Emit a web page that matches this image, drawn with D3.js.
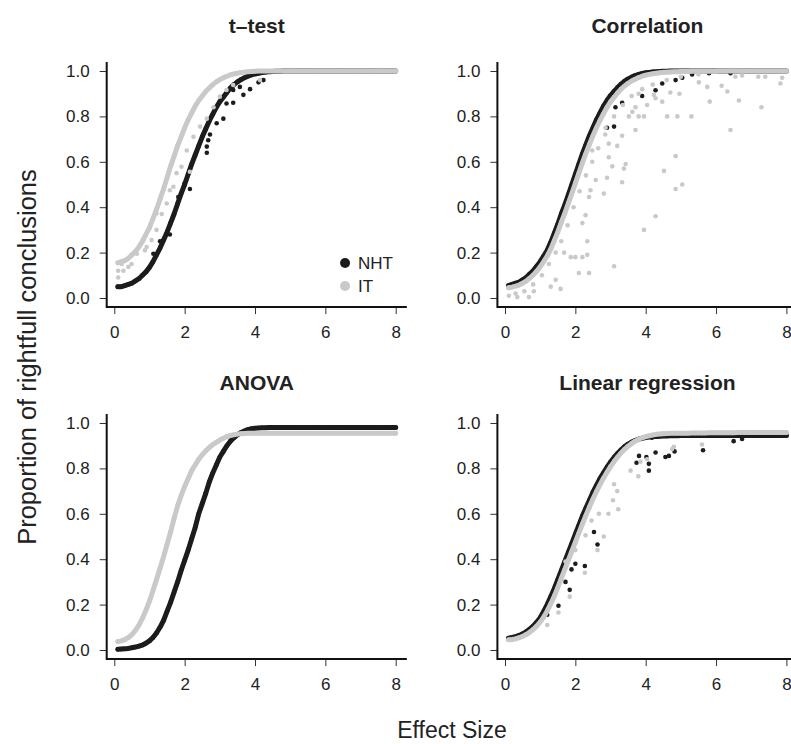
<!DOCTYPE html>
<html>
<head>
<meta charset="utf-8">
<script src="https://cdn.jsdelivr.net/npm/d3@7"></script>
<style>
	body { margin: 0; background: #fff; }
	svg { display: block; font-family: "Liberation Sans", Arial, sans-serif; }
</style>
</head>
<body>
<div id="chart"></div>
<script>
'use strict';

// effect sizes the simulations were run at
const effectSize = [
	0.1, 0.2, 0.3, 0.4, 0.5, 0.6, 0.7, 0.8, 0.9, 1.0,
	1.1, 1.2, 1.3, 1.4, 1.5, 1.6, 1.7, 1.8, 1.9, 2.0,
	2.1, 2.2, 2.3, 2.4, 2.5, 2.6, 2.7, 2.8, 2.9, 3.0,
	3.1, 3.2, 3.3, 3.4, 3.5, 3.6, 3.7, 3.8, 3.9, 4.0,
	4.1, 4.2, 4.3, 4.4, 4.5, 4.6, 4.7, 4.8, 4.9, 5.0,
	5.1, 5.2, 5.3, 5.4, 5.5, 5.6, 5.7, 5.8, 5.9, 6.0,
	6.1, 6.2, 6.3, 6.4, 6.5, 6.6, 6.7, 6.8, 6.9, 7.0,
	7.1, 7.2, 7.3, 7.4, 7.5, 7.6, 7.7, 7.8, 7.9, 8.0 ];

const xTicks = [0, 2, 4, 6, 8];
const yTicks = [0, 0.2, 0.4, 0.6, 0.8, 1.0];
const seriesNames = ["NHT", "IT"];
const panelTitles = ["t\u2013test", "Correlation", "ANOVA", "Linear regression"];

// t-test
const tTestNHT = [
	.050, .050, .055, .060, .065, .075, .085, .100, .115, .135,
	.160, .190, .220, .255, .290, .330, .370, .415, .460, .500,
	.545, .590, .630, .670, .710, .745, .780, .810, .840, .865,
	.885, .905, .925, .940, .952, .962, .970, .977, .983, .987,
	.990, .993, .995, .997, .998, .999, .999, 1, 1, 1,
	1, 1, 1, 1, 1, 1, 1, 1, 1, 1,
	1, 1, 1, 1, 1, 1, 1, 1, 1, 1,
	1, 1, 1, 1, 1, 1, 1, 1, 1, 1 ];
const tTestIT = [
	.155, .160, .165, .175, .190, .205, .225, .250, .280, .310,
	.350, .390, .435, .480, .530, .580, .625, .670, .710, .750,
	.785, .815, .845, .870, .890, .910, .925, .940, .952, .962,
	.970, .977, .983, .987, .990, .993, .995, .997, .998, .999,
	1, 1, 1, 1, 1, 1, 1, 1, 1, 1,
	1, 1, 1, 1, 1, 1, 1, 1, 1, 1,
	1, 1, 1, 1, 1, 1, 1, 1, 1, 1,
	1, 1, 1, 1, 1, 1, 1, 1, 1, 1 ];
const tTestNHTExtra = [
	[2.15, .48], [2.63, .64], [2.63, .667], [2.67, .695], [2.72, .72], [1.58, .28],
	[1.30, .25], [1.11, .195], [3.38, .86], [3.67, .895], [3.86, .92], [4.10, .95],
	[4.24, .96], [3.57, .93], [3.10, .79], [2.91, .77], [3.19, .857], [2.00, .505],
	[1.82, .445], [3.38, .916] ];
const tTestITExtra = [
	[.11, .09], [.26, .12], [.40, .137], [.64, .195], [.87, .21], [1.06, .255],
	[1.20, .30], [1.35, .37], [1.49, .416], [1.68, .49], [1.77, .55], [1.91, .578],
	[2.06, .65], [2.25, .71], [2.44, .755], [2.63, .79], [2.82, .84], [3.00, .887],
	[3.19, .916], [3.38, .938], [4.14, .96], [.21, .15], [.49, .15], [.82, .255],
	[.92, .225], [1.20, .372], [1.58, .475], [2.15, .556], [.11, .12] ];

// correlation
const corNHT = [
	.055, .060, .065, .070, .080, .090, .105, .120, .140, .160,
	.185, .210, .245, .285, .325, .370, .410, .455, .500, .545,
	.590, .635, .675, .715, .750, .785, .815, .845, .870, .892,
	.910, .927, .942, .955, .965, .973, .980, .985, .989, .992,
	.994, .996, .997, .998, .999, .999, 1, 1, 1, 1,
	1, 1, 1, 1, 1, 1, 1, 1, 1, 1,
	1, 1, 1, 1, 1, 1, 1, 1, 1, 1,
	1, 1, 1, 1, 1, 1, 1, 1, 1, 1 ];
const corIT = [
	.045, .048, .052, .057, .065, .074, .087, .101, .118, .137,
	.160, .185, .215, .252, .290, .333, .373, .417, .460, .505,
	.550, .595, .637, .677, .715, .750, .782, .812, .840, .864,
	.884, .903, .920, .934, .946, .956, .964, .971, .977, .982,
	.985, .988, .990, .992, .994, .995, .996, .997, .997, .998,
	.998, .998, .999, .999, .999, .999, .999, .999, .999, .999,
	1, 1, 1, 1, 1, 1, 1, 1, 1, 1,
	1, 1, 1, 1, 1, 1, 1, 1, 1, 1 ];
const corNHTExtra = [
	[3.90, .89], [4.28, .915], [4.47, .945], [4.85, .96], [5.04, .97], [5.32, .985],
	[5.80, .99], [6.41, .99], [3.33, .86], [3.10, .755], [2.90, .75], [3.14, .84] ];
const corITExtra = [
	[.11, .01], [.35, .004], [.68, .004], [.82, .03], [1.30, .05], [1.58, .04],
	[1.44, .08], [1.68, .20], [1.87, .18], [2.00, .18], [2.20, .18], [2.34, .19],
	[2.34, .25], [2.10, .11], [2.39, .11], [3.10, .14], [2.29, .365], [2.20, .33],
	[2.81, .46], [2.90, .53], [3.33, .51], [3.38, .57], [3.05, .58], [2.95, .62],
	[3.19, .67], [3.33, .715], [3.71, .74], [3.52, .80], [3.80, .80], [3.95, .80],
	[3.95, .30], [4.28, .36], [4.52, .56], [4.85, .625], [4.85, .48], [5.04, .50],
	[4.61, .80], [4.90, .80], [5.30, .80], [5.82, .865], [6.41, .74], [6.65, .87],
	[7.29, .84], [6.16, .935], [6.32, .91], [5.51, .95], [5.75, .93], [4.28, .88],
	[4.47, .865], [4.23, .895], [4.04, .85], [3.80, .90], [3.71, .84], [4.70, .905],
	[4.96, .90], [7.20, .975], [7.40, .975], [7.83, .945], [7.88, .97], [6.55, .975],
	[6.74, .98], [3.43, .59], [2.95, .68], [2.58, .52], [2.43, .475], [2.39, .445],
	[2.48, .65], [2.86, .75], [3.62, .82],
	// lower edge of the dense band
	[.30, .02], [.55, .03], [.80, .06], [1.05, .10], [1.25, .15], [1.44, .20],
	[1.60, .25], [1.78, .32], [1.95, .40], [2.12, .47], [2.30, .54], [2.48, .60],
	[2.65, .66], [2.85, .72], [3.10, .80], [3.35, .85], [3.60, .89], [3.90, .92],
	[4.20, .94], [4.60, .96], [5.00, .975], [5.50, .985] ];

// ANOVA
const anovaNHT = [
	.003, .004, .005, .007, .010, .013, .017, .022, .030, .040,
	.055, .075, .100, .130, .170, .210, .255, .300, .350, .395,
	.440, .490, .540, .600, .645, .690, .740, .780, .815, .850,
	.875, .900, .920, .935, .948, .958, .965, .971, .975, .977,
	.978, .979, .979, .980, .980, .980, .980, .980, .980, .980,
	.980, .980, .980, .980, .980, .980, .980, .980, .980, .980,
	.980, .980, .980, .980, .980, .980, .980, .980, .980, .980,
	.980, .980, .980, .980, .980, .980, .980, .980, .980, .980 ];
const anovaIT = [
	.037, .040, .046, .055, .068, .086, .110, .140, .175, .215,
	.262, .310, .360, .410, .465, .520, .580, .635, .680, .720,
	.755, .790, .815, .840, .860, .877, .892, .905, .915, .925,
	.933, .940, .945, .948, .951, .953, .954, .955, .955, .955,
	.955, .955, .955, .955, .955, .955, .955, .955, .955, .955,
	.955, .955, .955, .955, .955, .955, .955, .955, .955, .955,
	.955, .955, .955, .955, .955, .955, .955, .955, .955, .955,
	.955, .955, .955, .955, .955, .955, .955, .955, .955, .955 ];

// linear regression
const lrNHT = [
	.052, .055, .059, .064, .071, .080, .092, .105, .122, .142,
	.170, .200, .235, .270, .310, .350, .390, .430, .470, .510,
	.550, .590, .625, .660, .695, .725, .755, .780, .805, .828,
	.848, .866, .882, .896, .907, .916, .923, .929, .933, .936,
	.938, .940, .941, .942, .943, .943, .944, .944, .944, .945,
	.945, .945, .945, .945, .945, .945, .945, .945, .945, .945,
	.945, .945, .945, .945, .945, .945, .945, .945, .945, .945,
	.945, .945, .945, .945, .945, .945, .945, .945, .945, .945 ];
const lrIT = [
	.045, .046, .049, .054, .060, .068, .078, .090, .105, .123,
	.145, .172, .203, .237, .275, .315, .355, .395, .435, .475,
	.515, .555, .593, .630, .665, .698, .728, .757, .783, .808,
	.830, .850, .868, .884, .898, .910, .920, .928, .935, .940,
	.944, .947, .950, .952, .953, .954, .955, .955, .955, .955,
	.955, .955, .956, .956, .956, .956, .956, .957, .957, .957,
	.957, .957, .957, .957, .957, .958, .958, .958, .958, .958,
	.958, .958, .958, .958, .958, .958, .958, .958, .958, .958 ];
const lrNHTExtra = [
	[1.20, .155], [1.52, .195], [1.84, .265], [2.27, .37], [2.53, .52], [2.63, .465],
	[3.74, .825], [3.81, .855], [4.02, .85], [4.09, .82], [4.09, .79], [4.28, .87],
	[4.56, .85], [4.66, .855], [4.82, .875], [5.63, .88], [6.50, .92], [6.74, .93],
	[4.18, .935], [2.00, .38], [1.89, .355], [1.72, .30] ];
const lrITExtra = [
	[1.20, .11], [1.52, .165], [1.84, .235], [2.27, .34], [2.63, .44], [2.81, .50],
	[2.94, .60], [3.22, .62], [3.07, .66], [3.19, .70], [3.10, .73], [3.79, .765],
	[3.57, .79], [3.85, .83], [4.04, .84], [4.75, .885], [4.80, .895], [5.60, .905],
	[2.29, .505], [2.00, .44], [1.72, .39], [2.46, .57], [2.67, .60] ];

const W = 791, H = 744;
const colours = { NHT: "#1c1c1c", IT: "#c9c9c9" };

// pixel frames of the four panels (where x=0..8 and y=0..1 land)
const cols = [[114.3, 395.7], [505, 786.4]];
const rows = [[298, 71], [650, 423]];

const panels = [
	{ title: panelTitles[0], col: 0, row: 0, nht: tTestNHT, it: tTestIT, nhtExtra: tTestNHTExtra, itExtra: tTestITExtra, legend: true },
	{ title: panelTitles[1], col: 1, row: 0, nht: corNHT, it: corIT, nhtExtra: corNHTExtra, itExtra: corITExtra },
	{ title: panelTitles[2], col: 0, row: 1, nht: anovaNHT, it: anovaIT, nhtExtra: [], itExtra: [] },
	{ title: panelTitles[3], col: 1, row: 1, nht: lrNHT, it: lrIT, nhtExtra: lrNHTExtra, itExtra: lrITExtra }
];

const svg = d3.select("#chart")
	.append("svg")
		.attr("width", W)
		.attr("height", H);

panels.forEach(p => {
	const x = d3.scaleLinear().domain([0, 8]).range(cols[p.col]);
	const y = d3.scaleLinear().domain([0, 1]).range(rows[p.row]);
	const x0 = x(-0.216), x1 = Math.min(x(8.316), W);
	const y0 = y(-0.04), y1 = y(1.04);

	const g = svg.append("g");

	const pts = (vals) => vals.map((v, i) => [effectSize[i], v]);

	// the simulation runs are so dense they read as a band: stroke the run
	// with the dot width, then put the dots on top
	const band = d3.line()
		.x(d => x(d[0]))
		.y(d => y(d[1]));
	const drawBand = (data, stroke) => g.append("path")
		.datum(data)
		.attr("d", band)
		.attr("fill", "none")
		.attr("stroke", stroke)
		.attr("stroke-width", 5)
		.attr("stroke-linejoin", "round")
		.attr("stroke-linecap", "round");
	const drawDots = (data, fill) => g.append("g")
		.selectAll("circle")
		.data(data)
		.join("circle")
			.attr("cx", d => x(d[0]))
			.attr("cy", d => y(d[1]))
			.attr("r", 2.3)
			.attr("fill", fill);

	drawBand(pts(p.nht), colours.NHT);
	drawDots(pts(p.nht), colours.NHT);
	drawDots(p.nhtExtra, colours.NHT);
	drawBand(pts(p.it), colours.IT);
	drawDots(pts(p.it), colours.IT);
	drawDots(p.itExtra, colours.IT);

	// axes
	const xAxis = g.append("g")
		.attr("transform", `translate(0,${y0})`)
		.call(d3.axisBottom(x).tickValues(xTicks).tickSize(7).tickPadding(12).tickSizeOuter(0));
	const yAxis = g.append("g")
		.attr("transform", `translate(${x0},0)`)
		.call(d3.axisLeft(y).tickValues(yTicks).tickFormat(d3.format(".1f")).tickSize(7).tickPadding(10).tickSizeOuter(0));

	[xAxis, yAxis].forEach(a => {
		a.select(".domain").remove();
		a.selectAll("line").attr("stroke", "#333").attr("stroke-width", 1);
		a.selectAll("text").attr("fill", "#222").style("font-size", "17px");
	});

	// L shaped box
	g.append("path")
		.attr("d", `M${x0},${y1}V${y0}H${x1}`)
		.attr("fill", "none")
		.attr("stroke", "#111")
		.attr("stroke-width", 2);

	// title
	g.append("text")
		.attr("x", (x0 + x(8.316)) / 2)
		.attr("y", p.row === 0 ? 33 : 390)
		.attr("text-anchor", "middle")
		.style("font-size", "21px")
		.style("font-weight", "bold")
		.attr("fill", "#222")
		.text(p.title);

	if (p.legend) {
		const leg = g.append("g");
		seriesNames.forEach((s, i) => {
			const ly = y(0.154) + i * 23;
			leg.append("circle")
				.attr("cx", x(6.56))
				.attr("cy", ly)
				.attr("r", 5)
				.attr("fill", colours[s]);
			leg.append("text")
				.attr("x", x(6.56) + 13)
				.attr("y", ly)
				.attr("dy", "0.36em")
				.style("font-size", "17px")
				.attr("fill", "#222")
				.text(s);
		});
	}
});

// shared axis titles
svg.append("text")
	.attr("transform", "translate(36,357) rotate(-90)")
	.attr("text-anchor", "middle")
	.style("font-size", "25.5px")
	.attr("fill", "#222")
	.text("Proportion of rightfull conclusions");

svg.append("text")
	.attr("x", 452)
	.attr("y", 738)
	.attr("text-anchor", "middle")
	.style("font-size", "23px")
	.attr("fill", "#222")
	.text("Effect Size");
</script>
</body>
</html>
